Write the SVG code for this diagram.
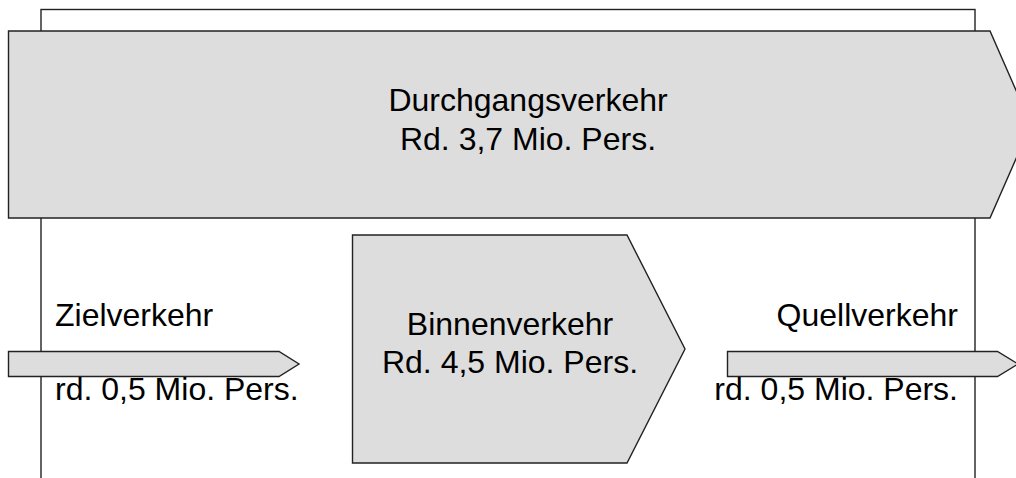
<svg xmlns="http://www.w3.org/2000/svg" width="1016" height="478" viewBox="0 0 1016 478">
<style>
.frame{fill:none;stroke:#222;stroke-width:1.4}
.shape{fill:#dddddd;stroke:#222;stroke-width:1.4;stroke-linejoin:miter}
text{font-family:"Liberation Sans",Arial,sans-serif;font-size:32px;fill:#000}
</style>
<rect width="1016" height="478" fill="#fff"/>
<g id="frame"><rect class="frame" x="41" y="9.5" width="934" height="490"/></g>
<g id="connectors"/>
<g id="durchgang">
<polygon class="shape" points="8.5,31 990,31 1031,124.5 990,218 8.5,218"/>
<text x="528" y="111" text-anchor="middle">Durchgangsverkehr</text>
<text x="528" y="150" text-anchor="middle">Rd. 3,7 Mio. Pers.</text>
</g>
<g id="binnen">
<polygon class="shape" points="352.5,235 627,235 685,349 627,463 352.5,463"/>
<text x="510" y="335" text-anchor="middle">Binnenverkehr</text>
<text x="510" y="373" text-anchor="middle">Rd. 4,5 Mio. Pers.</text>
</g>
<g id="ziel">
<polygon class="shape" points="8.5,351.5 279,351.5 299,364 279,376.5 8.5,376.5"/>
<text x="55" y="326">Zielverkehr</text>
<text x="55" y="400">rd. 0,5 Mio. Pers.</text>
</g>
<g id="quell">
<polygon class="shape" points="727.5,351.5 997.5,351.5 1018,364 997.5,376.5 727.5,376.5"/>
<text x="958" y="326" text-anchor="end">Quellverkehr</text>
<text x="958" y="400" text-anchor="end">rd. 0,5 Mio. Pers.</text>
</g>
</svg>
